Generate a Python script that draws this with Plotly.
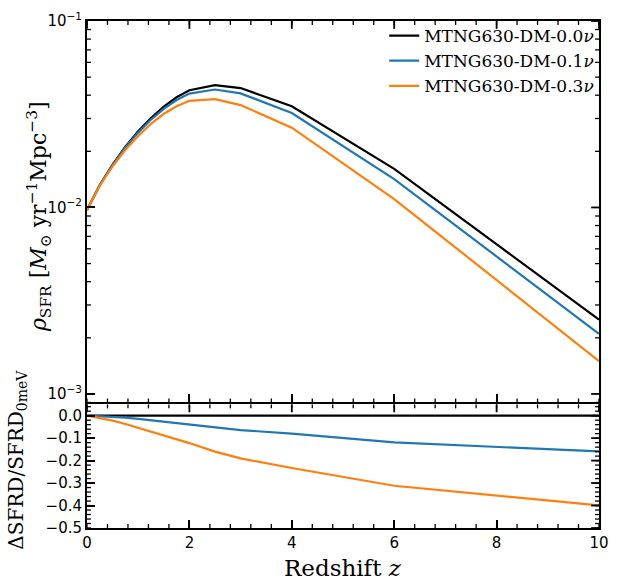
import math
import plotly.graph_objects as go

# Redshift grid of the outputs
z = [0.0, 0.25, 0.5, 0.75, 1.0, 1.25, 1.5, 1.75, 2.0, 2.5, 3.0, 4.0, 6.0, 10.0]

# Cosmic star formation rate density [M_sun / yr / Mpc^3]
sfrd_00 = [0.0097, 0.0132, 0.0170, 0.0212, 0.0256, 0.0302, 0.0347, 0.0390, 0.0425,
           0.0453, 0.0437, 0.0349, 0.0161, 0.0025]
sfrd_01 = [0.0097, 0.0132, 0.0169, 0.0210, 0.0252, 0.0296, 0.0338, 0.0377, 0.0408,
           0.0429, 0.0409, 0.0321, 0.0142, 0.0021]
sfrd_03 = [0.0097, 0.0131, 0.0166, 0.0204, 0.0242, 0.0281, 0.0318, 0.0349, 0.0373,
           0.0381, 0.0354, 0.0268, 0.0111, 0.0015]

# Relative difference with respect to the massless-neutrino run
dsfrd_00 = [0.0] * len(z)
dsfrd_01 = [0.0, -0.002, -0.005, -0.009, -0.014, -0.020, -0.026, -0.033, -0.040,
            -0.053, -0.064, -0.080, -0.119, -0.159]
dsfrd_03 = [0.0, -0.010, -0.022, -0.037, -0.054, -0.068, -0.085, -0.104, -0.122,
            -0.160, -0.190, -0.233, -0.312, -0.399]

labels = ["MTNG630-DM-0.0<i>ν</i>", "MTNG630-DM-0.1<i>ν</i>", "MTNG630-DM-0.3<i>ν</i>"]
colors = ["#000000", "#1f77b4", "#ff7f0e"]

# Tick positions and labels
x_ticks = [0, 2, 4, 6, 8, 10]
top_ticks = [1e-3, 1e-2, 1e-1]
top_ticktext = ["10<sup>−3</sup>", "10<sup>−2</sup>", "10<sup>−1</sup>"]
bot_ticks = [0.0, -0.1, -0.2, -0.3, -0.4, -0.5]
bot_ticktext = ["0.0", "−0.1", "−0.2", "−0.3", "−0.4", "−0.5"]

x_range = [0, 10]
top_range = [-3.0458, -1.0]
bot_range = [-0.5, 0.05]

# minor tick positions
x_minor = [round(0.4 * k, 2) for k in range(26)]
bot_minor = [round(-0.02 * k, 2) for k in range(-2, 26)]
top_minor = []
for dec in [1e-4, 1e-3, 1e-2]:
    for k in range(2, 10):
        v = k * dec
        if 8.9e-4 <= v < 1e-1:
            top_minor.append(v)

W, H = 619, 587
L, R, T, B = 87, 10, 11, 59
plot_w = W - L - R                      # 522 px
plot_h = H - T - B                      # 517 px
top_px, bot_px = 389, 126
top_dom = [(plot_h - top_px) / plot_h, 1.0]
bot_dom = [0.0, bot_px / plot_h]

fig = go.Figure()

for i, (top, bot) in enumerate([(sfrd_00, dsfrd_00), (sfrd_01, dsfrd_01), (sfrd_03, dsfrd_03)]):
    fig.add_trace(go.Scatter(x=z, y=top, mode="lines", name=labels[i],
                             legendgroup=str(i), xaxis="x", yaxis="y",
                             line=dict(color=colors[i], width=2.2)))
    fig.add_trace(go.Scatter(x=z, y=bot, mode="lines", showlegend=False,
                             xaxis="x2", yaxis="y2",
                             line=dict(color=colors[i], width=2.2)))

tick_font = dict(family="DejaVu Sans", size=15, color="black")
serif = "DejaVu Serif"
MAJ_LEN, MIN_LEN = 8, 4

common = dict(showline=True, linecolor="black", linewidth=2, mirror=True,
              ticks="inside", tickcolor="black", tickwidth=1.8, ticklen=MAJ_LEN,
              showgrid=False, zeroline=False, tickfont=tick_font, tickmode="array")

fig.update_layout(
    xaxis=dict(domain=[0, 1], anchor="y", range=x_range, tickvals=x_ticks,
               showticklabels=False, **common),
    xaxis2=dict(domain=[0, 1], anchor="y2", range=x_range, tickvals=x_ticks,
                ticktext=[str(v) for v in x_ticks], matches="x", **common),
    yaxis=dict(domain=top_dom, anchor="x", type="log", range=top_range,
               tickvals=top_ticks, ticktext=top_ticktext, **common),
    yaxis2=dict(domain=bot_dom, anchor="x2", range=bot_range,
                tickvals=bot_ticks, ticktext=bot_ticktext, **common),
)


# Extra tick marks (minor ticks everywhere, major ticks on the mirrored sides),
# placed in paper units from the axis ranges and domains
def frac(v, rng, log=False):
    p = math.log10(v) if log else v
    return (p - rng[0]) / (rng[1] - rng[0])


shapes = []


def xticks_on(dom, vals, length, width, sides):
    dl = length / plot_h
    for v in vals:
        f = frac(v, x_range)
        if f < -1e-9 or f > 1 + 1e-9:
            continue
        for s in sides:
            y0, y1 = (dom[0], dom[0] + dl) if s == "bottom" else (dom[1], dom[1] - dl)
            shapes.append(dict(type="line", xref="paper", yref="paper",
                               x0=f, x1=f, y0=y0, y1=y1,
                               line=dict(color="black", width=width)))


def yticks_on(dom, vals, rng, log, length, width, sides):
    dl = length / plot_w
    for v in vals:
        f = frac(v, rng, log)
        if f < -1e-9 or f > 1 + 1e-9:
            continue
        yp = dom[0] + f * (dom[1] - dom[0])
        for s in sides:
            x0, x1 = (0, dl) if s == "left" else (1, 1 - dl)
            shapes.append(dict(type="line", xref="paper", yref="paper",
                               x0=x0, x1=x1, y0=yp, y1=yp,
                               line=dict(color="black", width=width)))


# top panel
xticks_on(top_dom, x_minor, MIN_LEN, 1.3, ["bottom", "top"])
xticks_on(top_dom, x_ticks, MAJ_LEN, 1.8, ["top"])
yticks_on(top_dom, top_minor, top_range, True, MIN_LEN, 1.3, ["left", "right"])
yticks_on(top_dom, top_ticks, top_range, True, MAJ_LEN, 1.8, ["right"])
# bottom panel
xticks_on(bot_dom, x_minor, MIN_LEN, 1.3, ["bottom", "top"])
xticks_on(bot_dom, x_ticks, MAJ_LEN, 1.8, ["top"])
yticks_on(bot_dom, bot_minor, bot_range, False, MIN_LEN, 1.3, ["left", "right"])
yticks_on(bot_dom, bot_ticks, bot_range, False, MAJ_LEN, 1.8, ["right"])


def px_x(p):
    return (p - L) / plot_w


def px_y(p):
    return (H - B - p) / plot_h


fig.add_annotation(text="<i>ρ</i><sub>SFR</sub> [<i>M</i><sub>⊙</sub> yr<sup>−1</sup>Mpc<sup>−3</sup>]",
                   xref="paper", yref="paper", x=px_x(38), y=px_y(210),
                   xanchor="center", yanchor="middle", textangle=-90, showarrow=False,
                   font=dict(family=serif, size=22, color="black"))
fig.add_annotation(text="ΔSFRD/SFRD<sub>0meV</sub>",
                   xref="paper", yref="paper", x=px_x(16), y=px_y(458),
                   xanchor="center", yanchor="middle", textangle=-90, showarrow=False,
                   font=dict(family=serif, size=20, color="black"))
fig.add_annotation(text="Redshift <i>z</i>",
                   xref="paper", yref="paper", x=px_x(348), y=px_y(569),
                   xanchor="center", yanchor="middle", showarrow=False,
                   font=dict(family=serif, size=23, color="black"))

fig.update_layout(
    width=W, height=H,
    margin=dict(l=L, r=R, t=T, b=B),
    paper_bgcolor="white", plot_bgcolor="white",
    shapes=shapes,
    showlegend=True,
    legend=dict(x=px_x(390), y=px_y(8), xanchor="left", yanchor="top",
                bgcolor="rgba(0,0,0,0)", borderwidth=0,
                font=dict(family=serif, size=17, color="black"),
                tracegroupgap=0),
)

fig.write_html("out.html")
